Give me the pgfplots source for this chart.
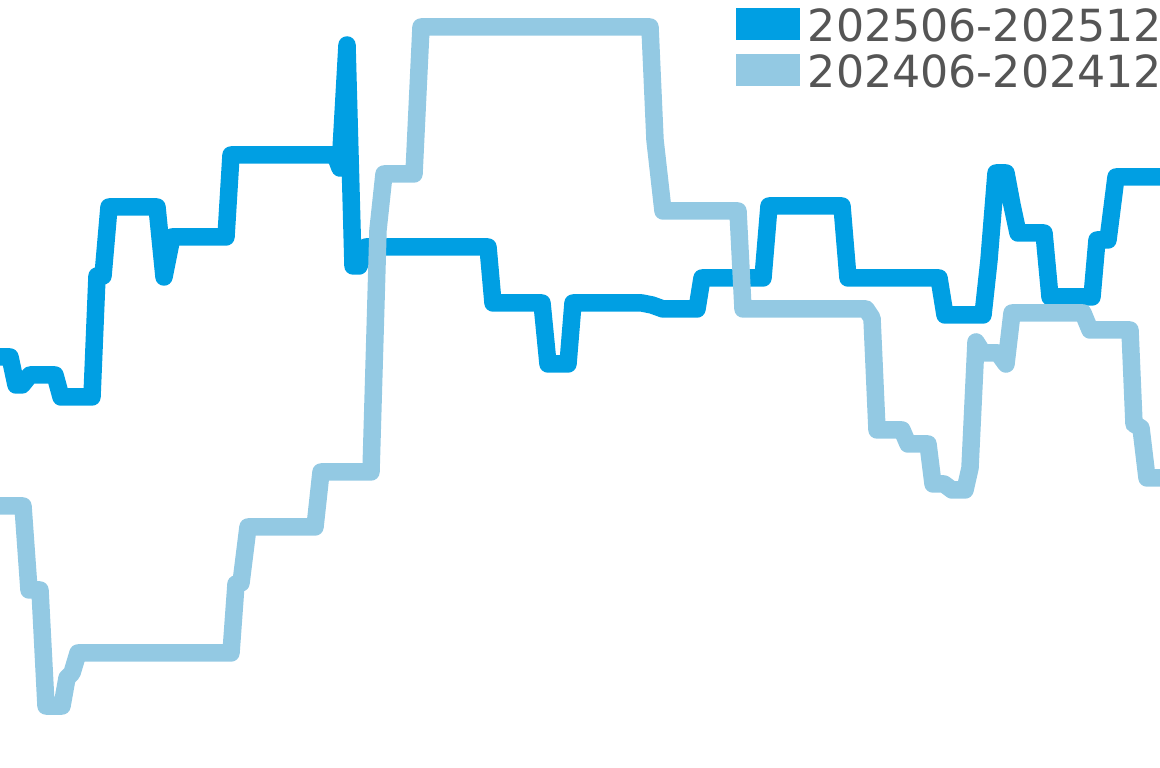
\documentclass[border=0pt]{standalone}
\usepackage{pgfplots}
\pgfplotsset{compat=1.18}
\usepackage{fontspec}
\setmainfont{DejaVu Sans}
\definecolor{darkblue}{HTML}{009FE3}
\definecolor{lightblue}{HTML}{93C9E3}
\definecolor{legendgray}{HTML}{555555}
\begin{document}
\begin{tikzpicture}
\useasboundingbox (0,0) rectangle (116mm,76.8mm);
\begin{axis}[
    scale only axis,
    width=116mm, height=76.8mm,
    xmin=0, xmax=1160,
    ymin=0, ymax=768,
    y dir=reverse,
    axis lines=none,
    ticks=none,
    clip=true,
    legend cell align=left,
    legend image code/.code={\fill[#1,draw=none] (0mm,-0.8mm) rectangle (6.4mm,2.4mm);},
    legend style={
        at={(rel axis cs:1,1)}, anchor=north east,
        xshift=0.2mm, yshift=-0.8mm,
        draw=none, fill=none,
        inner sep=0pt, outer sep=0pt,
        font=\fontsize{12.6}{14}\selectfont\color{legendgray},
        nodes={inner sep=0pt, text height=3.2mm, text depth=1.2mm},
        row sep=0pt,
        /tikz/every odd column/.append style={column sep=0.8mm},
    },
]
    % 202506-202512
    \addplot[darkblue, line width=1.75mm, line join=round, line cap=round] coordinates {
        (0,357) (10,357) (16,385) (22,385) (30,375) (55,375) (61,397) (92,397)
        (97,276) (103,276) (109,207) (157,207) (164,277) (172,237) (226,237)
        (231,155) (335,155) (340,168) (347,45) (353,266) (359,266) (366,247)
        (488,247) (493,303) (542,303) (548,364) (568,364) (573,303) (642,303)
        (652,305) (663,309) (697,309) (702,278) (763,278) (769,206) (842,206)
        (848,278) (939,278) (945,315) (983,315) (989,260) (996,173) (1006,173)
        (1012,205) (1018,233) (1044,233) (1050,297) (1092,297) (1097,240)
        (1108,240) (1116,177) (1160,177)
    };
    \addlegendentry{202506-202512}

    % 202406-202412
    \addplot[lightblue, line width=1.75mm, line join=round, line cap=round] coordinates {
        (0,506) (23,506) (29,590) (40,590) (46,706) (62,706) (67,678) (72,673)
        (78,653) (231,653) (236,584) (241,583) (248,527) (315,527) (321,472)
        (371,472) (376,300) (378,230) (384,174) (414,174) (421,27) (650,27)
        (655,140) (663,211) (738,211) (743,309) (866,309) (872,318) (877,430)
        (902,430) (908,444) (928,444) (933,484) (944,484) (952,490) (965,490)
        (970,468) (976,342) (983,353) (998,353) (1006,364) (1012,313)
        (1083,313) (1090,330) (1130,330) (1134,424) (1141,428) (1147,478)
        (1160,478)
    };
    \addlegendentry{202406-202412}
\end{axis}
\end{tikzpicture}
\end{document}
